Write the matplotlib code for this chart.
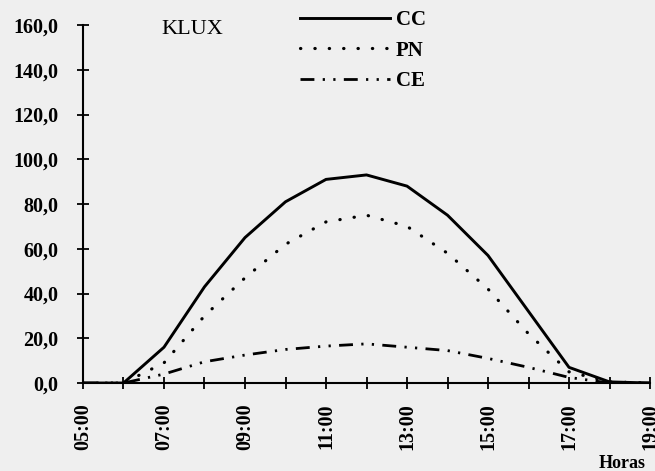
import matplotlib
matplotlib.use("Agg")
import matplotlib.pyplot as plt
from matplotlib.ticker import FuncFormatter

hours = list(range(5, 20))
hour_labels = [f"{h:02d}:00" for h in hours]
cc = [0, 0, 16, 43, 65, 81, 91, 93, 88, 75, 57, 32, 7, 0.5, 0]
pn = [0, 0, 9, 30, 47, 62, 72, 75, 70, 58, 42, 22, 5, 0.5, 0]
ce = [0, 0, 4, 9.5, 12.5, 15, 16.5, 17.5, 16, 14.5, 11, 7, 2.5, 0, 0]
series_names = ["CC", "PN", "CE"]
yticks = [0, 20, 40, 60, 80, 100, 120, 140, 160]

bg = "#efefef"
fig = plt.figure(figsize=(6.55, 4.71), dpi=100, facecolor=bg)
ax = fig.add_axes([0.1267, 0.1868, 0.8657, 0.7601], facecolor=bg)

serif = "Liberation Serif"
ax.plot(hours, cc, color="black", lw=2.1, ls="-", label=series_names[0])
ax.plot(hours, pn, color="black", lw=2.3, ls=(0, (0.1, 4.4)),
        dash_capstyle="round", label=series_names[1])
ax.plot(hours, ce, color="black", lw=2.0, ls=(0, (5, 3, 0.8, 3, 0.8, 3)),
        label=series_names[2])

ax.set_xlim(5, 19)
ax.set_ylim(0, 160)
ax.set_xticks(hours)
ax.set_xticklabels([lab if (h % 2 == 1) else "" for h, lab in zip(hours, hour_labels)],
                   rotation=90, fontfamily=serif, fontweight="bold", fontsize=14.5)
ax.set_yticks(yticks)
ax.yaxis.set_major_formatter(FuncFormatter(lambda v, p: f"{v:.1f}".replace(".", ",")))
for lab in ax.get_yticklabels():
    lab.set_fontfamily(serif)
    lab.set_fontweight("bold")
    lab.set_fontsize(14.5)

ax.tick_params(axis="both", direction="inout", length=9, width=1.3, color="black")
ax.tick_params(axis="x", pad=10)
ax.tick_params(axis="y", pad=13)
for s in ["top", "right"]:
    ax.spines[s].set_visible(False)
for s in ["left", "bottom"]:
    ax.spines[s].set_linewidth(1.5)

fig.text(0.247, 0.938, "KLUX", fontfamily=serif, fontsize=16, ha="left", va="center")
fig.text(0.914, 0.006, "Horas", fontfamily=serif, fontsize=13, fontweight="bold",
         ha="left", va="baseline")

leg = ax.legend(loc="upper left", bbox_to_anchor=(0.452, 0.987), bbox_transform=fig.transFigure,
                frameon=False, handlelength=4.3, handletextpad=0.3, labelspacing=0.5,
                prop={"family": serif, "size": 15, "weight": "bold"},
                borderaxespad=0, borderpad=0.2)

fig.savefig("out.png", dpi=100, facecolor=bg)
